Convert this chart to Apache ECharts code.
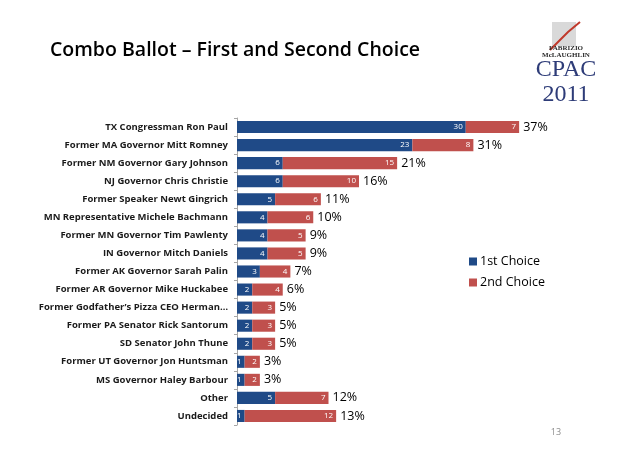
<!DOCTYPE html>
<html>
<head>
<meta charset="utf-8">
<script src="https://cdn.jsdelivr.net/npm/echarts@6/dist/echarts.min.js"></script>
<style>
html,body{margin:0;padding:0;background:#fff;}
#chart{width:620px;height:457px;}
</style>
</head>
<body>
<div id="chart"></div>
<script>
var categories = [
  "TX Congressman Ron Paul",
  "Former MA Governor Mitt Romney",
  "Former NM Governor Gary Johnson",
  "NJ Governor Chris Christie",
  "Former Speaker Newt Gingrich",
  "MN Representative Michele Bachmann",
  "Former MN Governor Tim Pawlenty",
  "IN Governor Mitch Daniels",
  "Former AK Governor Sarah Palin",
  "Former AR Governor Mike Huckabee",
  "Former Godfather\u2019s Pizza CEO Herman\u2026",
  "Former PA Senator Rick Santorum",
  "SD Senator John Thune",
  "Former UT Governor Jon Huntsman",
  "MS Governor Haley Barbour",
  "Other",
  "Undecided"
];
var firstChoice  = [30, 23, 6, 6, 5, 4, 4, 4, 3, 2, 2, 2, 2, 1, 1, 5, 1];
var secondChoice = [7, 8, 15, 10, 6, 6, 5, 5, 4, 4, 3, 3, 3, 2, 2, 7, 12];
var seriesNames = ["1st Choice", "2nd Choice"];
var titleText = "Combo Ballot \u2013 First and Second Choice";
var pageNumber = "13";

var totals = firstChoice.map(function (v, i) { return v + secondChoice[i]; });

var chart = echarts.init(document.getElementById('chart'));
var inLabel = {
  show: true,
  position: 'insideRight',
  color: '#ffffff',
  fontSize: 8,
  fontFamily: 'Open Sans',
  distance: 3
};
chart.setOption({
  animation: false,
  backgroundColor: '#ffffff',
  title: {
    text: titleText,
    left: 45,
    top: 35,
    textStyle: { fontFamily: 'Open Sans', fontWeight: 600, fontSize: 19.5, color: '#000000' }
  },
  legend: {
    data: seriesNames,
    orient: 'vertical',
    left: 464,
    top: 250,
    itemWidth: 8,
    itemHeight: 8,
    itemGap: 8,
    icon: 'rect',
    textStyle: { fontFamily: 'Open Sans', fontSize: 12.5, color: '#000000', padding: [0, 0, 0, -2] }
  },
  grid: { left: 237, top: 118, width: 305, height: 307, containLabel: false },
  xAxis: {
    type: 'value', min: 0, max: 40, show: false
  },
  yAxis: {
    type: 'category',
    data: categories,
    inverse: true,
    axisLine: { show: true, lineStyle: { color: '#a6a6a6', width: 1 } },
    axisTick: { show: true, inside: false, length: 3, lineStyle: { color: '#a6a6a6' } },
    axisLabel: {
      fontFamily: 'Open Sans', fontWeight: 'bold', fontSize: 9.5, color: '#1a1a1a', margin: 9
    }
  },
  series: [
    {
      name: seriesNames[0], type: 'bar', stack: 'a', data: firstChoice,
      barCategoryGap: '33%',
      itemStyle: { color: '#1F4A87' },
      label: inLabel
    },
    {
      name: seriesNames[1], type: 'bar', stack: 'a', data: secondChoice,
      itemStyle: { color: '#C0504D' },
      label: inLabel
    },
    {
      name: 'Total', type: 'bar', data: totals, barGap: '-100%',
      itemStyle: { color: 'rgba(0,0,0,0)' },
      silent: true,
      label: {
        show: true, position: 'right', distance: 4,
        formatter: function (p) { return p.value + '%'; },
        fontFamily: 'Open Sans', fontSize: 12.5, color: '#000000'
      },
      z: 1
    }
  ],
  graphic: [
    { type: 'rect', shape: { x: 552, y: 22, width: 24, height: 24 }, style: { fill: '#d9d9d9' }, silent: true },
    { type: 'polyline', shape: { points: [[550, 50], [568, 32], [580, 22]] }, style: { stroke: '#c0392b', lineWidth: 2, fill: null } },
    { type: 'text', style: { text: 'FABRIZIO', x: 566, y: 45, textAlign: 'center', font: 'bold 7px "Liberation Serif"', fill: '#2b2b2b' } },
    { type: 'text', style: { text: 'McLAUGHLIN', x: 566, y: 52, textAlign: 'center', font: 'bold 7px "Liberation Serif"', fill: '#2b2b2b' } },
    { type: 'text', style: { text: 'CPAC', x: 566, y: 58, textAlign: 'center', font: '24px "Liberation Serif"', fill: '#2e3c78' } },
    { type: 'text', style: { text: '2011', x: 566, y: 83, textAlign: 'center', font: '24px "Liberation Serif"', fill: '#2e3c78' } },
    { type: 'text', style: { text: pageNumber, x: 556, y: 428, textAlign: 'center', font: '9px "Open Sans"', fill: '#8c8c8c' } }
  ]
});
</script>
</body>
</html>
